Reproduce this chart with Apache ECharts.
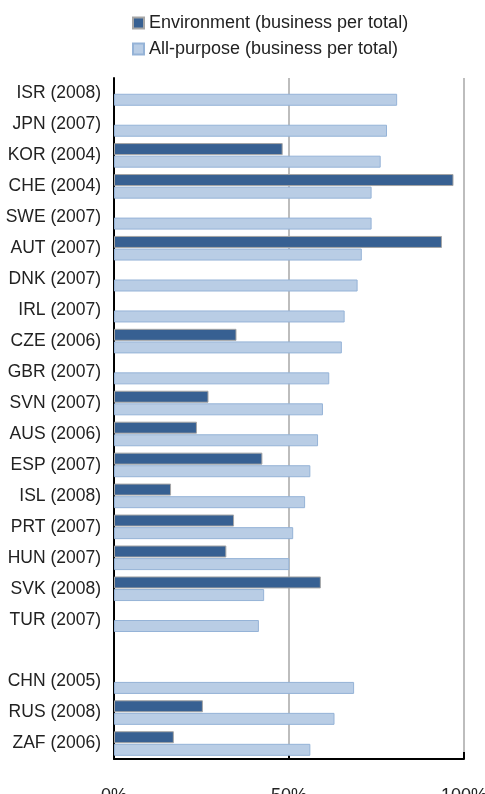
<!DOCTYPE html>
<html>
<head>
<meta charset="utf-8">
<script src="https://cdn.jsdelivr.net/npm/echarts@6/dist/echarts.min.js"></script>
<style>
    html, body { margin: 0; padding: 0; background: #fff; }
    #main { width: 485px; height: 794px; }
</style>
</head>
<body>
<div id="main"></div>
<script>
// country (year) labels, top to bottom; '' is the blank row before the partner economies
var categories = ['ISR (2008)', 'JPN (2007)', 'KOR (2004)', 'CHE (2004)', 'SWE (2007)', 'AUT (2007)',
    'DNK (2007)', 'IRL (2007)', 'CZE (2006)', 'GBR (2007)', 'SVN (2007)', 'AUS (2006)', 'ESP (2007)',
    'ISL (2008)', 'PRT (2007)', 'HUN (2007)', 'SVK (2008)', 'TUR (2007)', '', 'CHN (2005)', 'RUS (2008)', 'ZAF (2006)'];
// environment R&D, business share of total (%)
var envValues = [null, null, 48.2, 97.0, null, 93.7, null, null, 35.0, null, 27.0, 23.7, 42.4,
    16.3, 34.3, 32.1, 59.1, null, null, null, 25.4, 17.1];
// all-purpose R&D, business share of total (%)
var allValues = [80.9, 78.0, 76.2, 73.6, 73.6, 70.8, 69.6, 65.9, 65.1, 61.5, 59.7, 58.3, 56.1,
    54.6, 51.2, 50.1, 42.9, 41.4, null, 68.6, 63.0, 56.1];
var seriesNames = ['Environment (business per total)', 'All-purpose (business per total)'];

var fontName = '"Liberation Sans", Arial, sans-serif';

var myChart = echarts.init(document.getElementById('main'));
var option = {
    animation: false,
    textStyle: { fontFamily: fontName },
    legend: {
        orient: 'vertical',
        left: 127,
        top: 9,
        icon: 'rect',
        itemWidth: 11,
        itemHeight: 11,
        itemGap: 8,
        textStyle: { fontSize: 18, color: '#222', fontFamily: fontName },
        data: seriesNames
    },
    grid: {
        left: 114,
        right: 21,
        top: 78,
        bottom: 35,
        containLabel: false,
        outerBoundsMode: 'none'
    },
    xAxis: {
        type: 'value',
        min: 0,
        max: 100,
        interval: 50,
        axisLine: { show: true, lineStyle: { color: '#000', width: 2 } },
        axisTick: { show: true, inside: true, length: 7, lineStyle: { color: '#000', width: 2 } },
        axisLabel: {
            formatter: '{value}%',
            fontSize: 18,
            color: '#222',
            margin: 28,
            fontFamily: fontName
        },
        splitLine: { show: true, lineStyle: { color: '#bdbdbd', width: 2 } }
    },
    yAxis: {
        type: 'category',
        inverse: true,
        data: categories,
        axisLine: { show: true, lineStyle: { color: '#000', width: 2 } },
        axisTick: { show: false },
        axisLabel: { fontSize: 17.5, color: '#222', margin: 13, fontFamily: fontName }
    },
    series: [{
        name: seriesNames[0],
        type: 'bar',
        data: envValues,
        barWidth: 12,
        barGap: '5%',
        itemStyle: { color: '#376092', borderColor: '#a6a6a6', borderWidth: 1 }
    }, {
        name: seriesNames[1],
        type: 'bar',
        data: allValues,
        barWidth: 12,
        itemStyle: { color: '#b9cde5', borderColor: '#95b3d7', borderWidth: 1 }
    }]
};
myChart.setOption(option);
</script>
</body>
</html>
